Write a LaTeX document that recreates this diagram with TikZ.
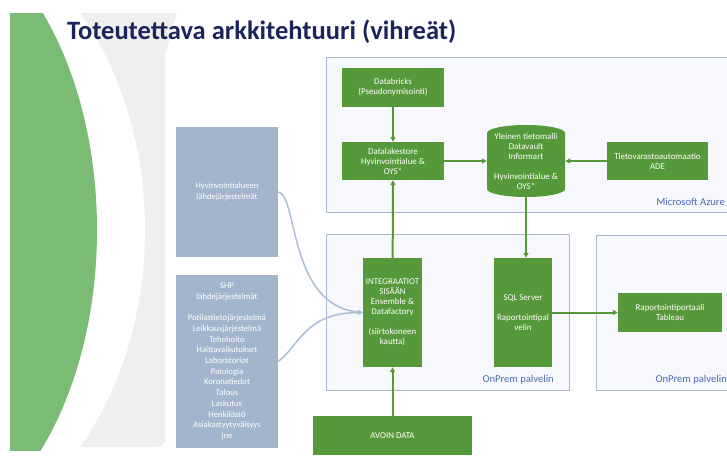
\documentclass[tikz,border=0pt]{standalone}
\usepackage{fontspec}
\setmainfont{Carlito}
\usetikzlibrary{arrows.meta}
\definecolor{gbox}{RGB}{86,153,58}
\definecolor{bigreen}{RGB}{122,188,116}
\definecolor{bggray}{RGB}{239,239,239}
\definecolor{bbox}{RGB}{163,181,205}
\definecolor{bline}{RGB}{172,190,214}
\definecolor{cborder}{RGB}{170,184,206}
\definecolor{cfill}{RGB}{247,248,251}
\definecolor{titleblue}{RGB}{28,36,92}
\definecolor{lblblue}{RGB}{74,108,178}
\begin{document}
\begin{tikzpicture}[x=1pt,y=-1pt,
  gb/.style={fill=gbox, text=white, align=center, inner sep=1pt,
    font=\fontsize{8.9}{10}\selectfont},
  bb/.style={fill=bbox, text=white, align=center, inner sep=1pt,
    font=\fontsize{8.6}{10.7}\selectfont},
  container/.style={draw=cborder, fill=cfill, line width=1pt},
  clabel/.style={text=lblblue, font=\fontsize{10.6}{12}\selectfont, inner sep=0pt},
  garr/.style={draw=gbox, line width=2pt, -{Triangle[length=5pt,width=5pt]}},
  barr/.style={draw=bline, line width=1.5pt, -{Triangle[length=5pt,width=5pt]}}
]
\useasboundingbox (0,0) rectangle (727,458);
% slide background decoration
\begin{scope}
  \clip (10,13) rectangle (727,450);
  \fill[bggray] (5,5) -- (177,5) -- (177,13) -- (165,55) [rounded corners=8pt]-- (165,447) -- (5,447) [sharp corners]-- cycle;
  \fill[white] (-100,230) ellipse [x radius=245pt, y radius=320pt];
  \fill[bigreen] (-100,230) ellipse [x radius=197pt, y radius=315pt];
\end{scope}
% title
\node[anchor=west, text=titleblue, font=\fontsize{26.5}{30}\selectfont\bfseries, inner sep=0pt]
  (title) at (67,32) {Toteutettava arkkitehtuuri (vihreät)};
% containers
\draw[container] (326,57) rectangle (740,212);
\node[clabel, anchor=east] (azure) at (725,202) {Microsoft Azure};
\draw[container] (326,234) rectangle (569,390);
\node[clabel, anchor=east] (onprem1) at (554,380) {OnPrem palvelin};
\draw[container] (596,235) rectangle (740,390);
\node[clabel, anchor=east] (onprem2) at (727,380) {OnPrem palvelin};
% green boxes
\node[gb, minimum width=102pt, minimum height=39pt] (databricks) at (393,87.5) {Databricks\\(Pseudonymisointi)};
\node[gb, minimum width=102pt, minimum height=38pt] (datalake) at (393,161) {Datalakestore\\Hyvinvointialue \&\\OYS*};
\node[gb, minimum width=101pt, minimum height=38pt] (tieto) at (657.5,161) {Tietovarastoautomaatio\\ADE};
% cylinder
\fill[gbox] (487,133) arc[start angle=180, end angle=0, x radius=39pt, y radius=8pt]
  -- (565,189) arc[start angle=0, end angle=-180, x radius=39pt, y radius=8pt] -- cycle;
\node[text=white, align=center, inner sep=0pt, minimum width=78pt, minimum height=72pt,
  font=\fontsize{8.9}{10}\selectfont] (cyl) at (526,161)
  {Yleinen tietomalli\\Datavault\\Informart\\[10pt]Hyvinvointialue \&\\OYS*};
\node[gb, minimum width=59pt, minimum height=109pt] (integ) at (392.5,312.5)
  {INTEGRAATIOT\\SISÄÄN\\Ensemble \&\\Datafactory\\[10pt](siirtokoneen\\kautta)};
\node[gb, minimum width=58pt, minimum height=109pt] (sql) at (523,312.5)
  {SQL Server\\[10pt]Raportointipal\\velin};
\node[gb, minimum width=104pt, minimum height=39pt] (rapo) at (670,312.5) {Raportointiportaali\\Tableau};
\node[gb, minimum width=159pt, minimum height=39pt] (avoin) at (392.5,435.5) {AVOIN DATA};
% blue boxes
\node[bb, minimum width=102pt, minimum height=130pt] (hyv) at (227,192) {Hyvinvointialueen\\lähdejärjestelmät};
\node[bb, minimum width=102pt, minimum height=173pt] (shp) at (227,361.5)
  {SHP\\lähdejärjestelmät\\[10.7pt]Potilastietojärjestelmä\\Leikkausjärjestelmä\\Tehohoito\\Haittavaikutukset\\Laboratoriot\\Patologia\\Koronatiedot\\Talous\\Laskutus\\Henkilöstö\\Asiakastyytyväisyys\\jne};
% connectors
\draw[garr] (databricks) -- (datalake);
\draw[garr] (datalake) -- (cyl);
\draw[garr] (tieto) -- (cyl);
\draw[garr] (cyl.south) -- (cyl.south |- sql.north);
\draw[garr] (integ) -- (datalake);
\draw[garr] (avoin) -- (integ);
\draw[garr] (sql) -- (rapo);
\draw[barr] (hyv.east) .. controls (298,195) and (288,305) .. (integ.west);
\draw[barr] (shp.east) .. controls (300,345) and (305,313) .. (integ.west);
\end{tikzpicture}
\end{document}
